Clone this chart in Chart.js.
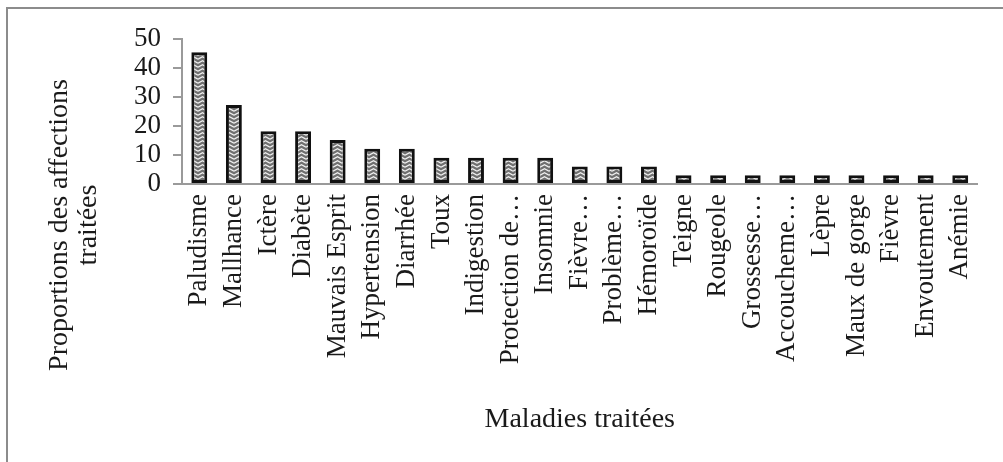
<!DOCTYPE html>
<html lang="fr">
<head>
    <meta charset="UTF-8">
    <title>Maladies traitées</title>
    <script src="https://cdn.jsdelivr.net/npm/chart.js"></script>
    <style>
        html, body { margin: 0; padding: 0; background: #fff; }
        #wrap { position: relative; width: 1003px; height: 462px; }
    </style>
</head>
<body>
    <div id="wrap"><canvas id="chart" width="1003" height="462"></canvas></div>

    <script>
        const categories = [
            'Paludisme', 'Mallhance', 'Ictère', 'Diabète', 'Mauvais Esprit', 'Hypertension',
            'Diarrhée', 'Toux', 'Indigestion', 'Protection de…', 'Insomnie', 'Fièvre…',
            'Problème…', 'Hémoroïde', 'Teigne', 'Rougeole', 'Grossesse…', 'Accoucheme…',
            'Lèpre', 'Maux de gorge', 'Fièvre', 'Envoutement', 'Anémie'
        ];
        const proportions = [
            45.45, 27.27, 18.18, 18.18, 15.15, 12.12,
            12.12, 9.09, 9.09, 9.09, 9.09, 6.06,
            6.06, 6.06, 3.03, 3.03, 3.03, 3.03,
            3.03, 3.03, 3.03, 3.03, 3.03
        ];
        const yTicks = [0, 10, 20, 30, 40, 50];
        const yTitle = ['Proportions des affections', 'traitées'];
        const xTitle = 'Maladies traitées';

        const serif = '"Liberation Serif", "DejaVu Serif", serif';
        const axisGrey = '#9a9a9a';

        // zigzag fill like the printed hatch
        const makePattern = () => {
            const tile = document.createElement('canvas');
            tile.width = 9;
            tile.height = 4;
            const t = tile.getContext('2d');
            t.fillStyle = '#707070';
            t.fillRect(0, 0, 9, 4);
            t.strokeStyle = '#f2f2f2';
            t.lineWidth = 1.3;
            t.beginPath();
            t.moveTo(0, 3.2);
            t.lineTo(4.5, 0.8);
            t.lineTo(9, 3.2);
            t.stroke();
            return document.getElementById('chart').getContext('2d').createPattern(tile, 'repeat');
        };

        // frame and axis titles
        const decorations = {
            id: 'decorations',
            beforeDraw(chart) {
                const ctx = chart.ctx;
                ctx.save();
                ctx.strokeStyle = '#8c8c8c';
                ctx.lineWidth = 2;
                ctx.beginPath();
                ctx.moveTo(7, 470);
                ctx.lineTo(7, 8);
                ctx.lineTo(1010, 8);
                ctx.stroke();
                ctx.restore();
            },
            afterDraw(chart) {
                const ctx = chart.ctx;
                const area = chart.chartArea;
                ctx.save();
                ctx.fillStyle = '#1a1a1a';
                ctx.font = '28px ' + serif;
                ctx.textAlign = 'center';
                ctx.textBaseline = 'alphabetic';
                ctx.translate(0, 225);
                ctx.rotate(-Math.PI / 2);
                ctx.fillText(yTitle[0], 0, 67);
                ctx.fillText(yTitle[1], 0, 96);
                ctx.restore();

                ctx.save();
                ctx.fillStyle = '#1a1a1a';
                ctx.font = '28px ' + serif;
                ctx.textAlign = 'center';
                ctx.textBaseline = 'alphabetic';
                ctx.fillText(xTitle, (area.left + area.right) / 2, 427);
                ctx.restore();
            }
        };

        new Chart(document.getElementById('chart'), {
            type: 'bar',
            data: {
                labels: categories,
                datasets: [{
                    data: proportions,
                    backgroundColor: makePattern(),
                    borderColor: '#111',
                    borderWidth: 3,
                    borderSkipped: false,
                    barPercentage: 0.46,
                    categoryPercentage: 1
                }]
            },
            options: {
                responsive: false,
                animation: false,
                layout: { padding: { top: 39, right: 16, bottom: 0, left: 0 } },
                plugins: {
                    legend: { display: false },
                    tooltip: { enabled: false }
                },
                scales: {
                    x: {
                        afterFit: (scale) => { scale.height = 462 - 184; },
                        grid: { display: false, drawTicks: false },
                        border: { display: true, color: axisGrey, width: 2 },
                        ticks: {
                            autoSkip: false,
                            minRotation: 90,
                            maxRotation: 90,
                            padding: 10,
                            color: '#1a1a1a',
                            font: { family: serif, size: 27 }
                        }
                    },
                    y: {
                        min: 0,
                        max: 50,
                        afterFit: (scale) => { scale.width = 182; },
                        afterBuildTicks: (scale) => { scale.ticks = yTicks.map(v => ({ value: v })); },
                        grid: {
                            drawOnChartArea: false,
                            drawTicks: true,
                            tickLength: 9,
                            color: axisGrey,
                            lineWidth: 2
                        },
                        border: { display: true, color: axisGrey, width: 2 },
                        ticks: {
                            autoSkip: false,
                            padding: 12,
                            color: '#1a1a1a',
                            font: { family: serif, size: 27 }
                        }
                    }
                }
            },
            plugins: [decorations]
        });
    </script>
</body>
</html>
